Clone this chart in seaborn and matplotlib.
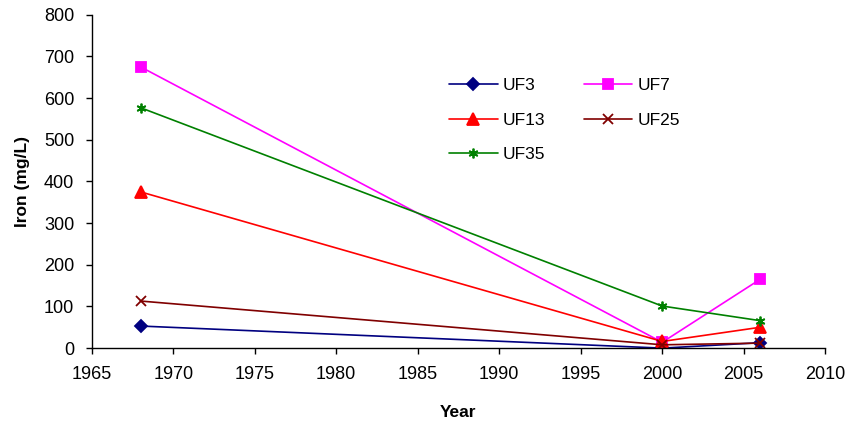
import matplotlib
matplotlib.use("Agg")
import matplotlib.pyplot as plt
import seaborn as sns
import pandas as pd

years = [1968, 2000, 2006]
uf3 = [53, 0, 13]
uf7 = [675, 14, 165]
uf13 = [375, 16, 50]
uf25 = [113, 8, 12]
uf35 = [577, 101, 66]

series = ["UF3", "UF7", "UF13", "UF25", "UF35"]
values = [uf3, uf7, uf13, uf25, uf35]
colors = ["#000080", "#FF00FF", "#FF0000", "#800000", "#008000"]
markers = ["D", "s", "^", "x", (6, 2, 0)]
msizes = [6, 7.5, 8.5, 6.5, 7]

sns.set_theme(style="white")
plt.rcParams["font.family"] = ["Liberation Sans", "DejaVu Sans"]
plt.rcParams["text.color"] = "black"
plt.rcParams["axes.labelcolor"] = "black"

fig = plt.figure(figsize=(8.49, 4.23), dpi=100)
ax = fig.add_axes([0.108, 0.177, 0.864, 0.788])

handles = {}
for name, vals, c, m, ms in zip(series, values, colors, markers, msizes):
    df = pd.DataFrame({"Year": years, "Iron": vals})
    sns.lineplot(data=df, x="Year", y="Iron", ax=ax, color=c, marker=m,
                 markersize=ms, markeredgecolor=c, markerfacecolor=c,
                 markeredgewidth=1.3, linewidth=1.2, label=name)
    handles[name] = ax.get_lines()[-1]

ax.set_xlim(1965, 2010)
ax.set_ylim(0, 800)
ax.set_xticks(range(1965, 2011, 5))
ax.set_yticks(range(0, 801, 100))
ax.tick_params(axis="both", labelsize=13, direction="out", length=4,
               width=1, colors="black", bottom=True, left=True)
ax.tick_params(axis="x", pad=9)
ax.tick_params(axis="y", pad=8.5)
for s in ["top", "right"]:
    ax.spines[s].set_visible(False)
for s in ["left", "bottom"]:
    ax.spines[s].set_color("black")
    ax.spines[s].set_linewidth(1)
ax.set_xlabel("Year", fontsize=12.5, fontweight="bold", labelpad=16)
ax.set_ylabel("Iron (mg/L)", fontsize=12.5, fontweight="bold", labelpad=10)

# legend filled row by row: UF3 UF7 / UF13 UF25 / UF35
order = ["UF3", "UF13", "UF35", "UF7", "UF25"]
leg = ax.legend([handles[n] for n in order], order, ncol=2, frameon=False,
                fontsize=12.5, loc="upper left", bbox_to_anchor=(0.529, 0.815),
                bbox_transform=fig.transFigure, borderpad=0, borderaxespad=0,
                columnspacing=2.2, handlelength=2.8, handletextpad=0.3,
                labelspacing=1.1)
for t in leg.get_texts():
    t.set_color("black")

fig.savefig("out.png", dpi=100)
